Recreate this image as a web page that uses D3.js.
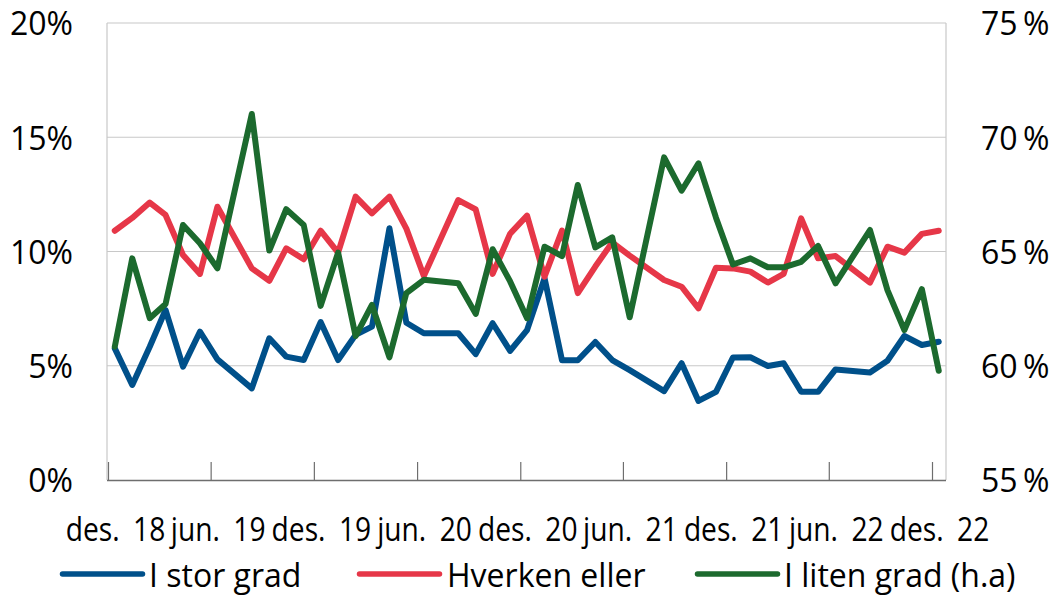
<!DOCTYPE html>
<html>
<head>
<meta charset="utf-8">
<script src="https://cdn.jsdelivr.net/npm/d3@7"></script>
<style>
  html, body { margin: 0; padding: 0; background: #fff; }
  svg { display: block; }
  text { font-family: "Open Sans", "Noto Sans", sans-serif; fill: #000; }
</style>
</head>
<body>
<svg id="chart" width="1057" height="599"></svg>
<script>
// ---- data ----
const months = [
  "2018-12",
  "2019-01","2019-02","2019-03","2019-04","2019-05","2019-06","2019-08","2019-09","2019-10","2019-11","2019-12",
  "2020-01","2020-02","2020-03","2020-04","2020-05","2020-06","2020-08","2020-09","2020-10","2020-11","2020-12",
  "2021-01","2021-02","2021-03","2021-04","2021-05","2021-06","2021-08","2021-09","2021-10","2021-11","2021-12",
  "2022-01","2022-02","2022-03","2022-04","2022-05","2022-06","2022-08","2022-09","2022-10","2022-11","2022-12"
];
const iStorGrad = [5.76,
  4.16,5.83,7.44,4.96,6.49,5.28,4.01,6.20,5.40,5.25,6.91,
  5.25,6.35,6.71,11.02,6.88,6.42,6.42,5.51,6.86,5.65,6.56,
  8.83,5.24,5.24,6.04,5.25,4.81,3.89,5.11,3.46,3.86,5.36,
  5.37,4.99,5.11,3.86,3.86,4.84,4.70,5.22,6.30,5.91,6.05];
const hverkenEller = [10.91,
  11.47,12.14,11.60,9.85,9.02,11.96,9.26,8.72,10.14,9.66,10.91,
  9.95,12.40,11.67,12.40,11.00,8.93,12.25,11.84,9.02,10.78,11.57,
  8.90,10.92,8.18,9.34,10.40,9.82,8.75,8.46,7.51,9.29,9.26,
  9.12,8.64,9.02,11.45,9.70,9.80,8.64,10.21,9.95,10.77,10.91];
const iLitenGrad = [60.83,
  64.70,62.08,62.70,66.16,65.36,64.26,71.02,65.04,66.85,66.16,62.62,
  64.95,61.30,62.66,60.37,63.18,63.76,63.61,62.27,65.10,63.69,62.08,
  65.21,64.80,67.91,65.18,65.62,62.12,69.12,67.66,68.86,66.48,64.43,
  64.70,64.31,64.31,64.55,65.24,63.61,65.94,63.31,61.56,63.35,59.78];
const xTickDates = ["2018-12","2019-06","2019-12","2020-06","2020-12","2021-06","2021-12","2022-06","2022-12"];
const xTickLabels = ["des. 18","jun. 19","des. 19","jun. 20","des. 20","jun. 21","des. 21","jun. 22","des. 22"];
const leftTicks = [0,5,10,15,20];
const rightTicks = [55,60,65,70,75];
const seriesNames = ["I stor grad","Hverken eller","I liten grad (h.a)"];
const seriesColors = ["#00508a","#e63748","#1c6a2e"];

// ---- layout ----
const svg = d3.select("#chart");
const L = 107, R = 946, T = 23, B = 480;
const parseMonth = s => { const [y,m] = s.split("-").map(Number); return new Date(y, m-1, 13); };
const parseTick = s => { const [y,m] = s.split("-").map(Number); return new Date(y, m-1, 1); };
const dates = months.map(parseMonth);

const x = d3.scaleTime().domain([new Date(2018,11,1), new Date(2022,11,1)]).range([108, 932]);
const yL = d3.scaleLinear().domain([0,20]).range([B, T]);
const yR = d3.scaleLinear().domain([55,75]).range([B, T]);

// gridlines
svg.append("g").selectAll("line").data(leftTicks.filter(d => d > 0)).join("line")
  .attr("x1", L).attr("x2", R)
  .attr("y1", d => yL(d)).attr("y2", d => yL(d))
  .attr("stroke", "#c8c8c8").attr("stroke-width", 1.2);
// side borders
svg.append("line").attr("x1", L).attr("x2", L).attr("y1", T).attr("y2", B).attr("stroke", "#c8c8c8").attr("stroke-width", 1.2);
svg.append("line").attr("x1", R).attr("x2", R).attr("y1", T).attr("y2", B).attr("stroke", "#c8c8c8").attr("stroke-width", 1.2);

// bottom axis
const xAxis = d3.axisBottom(x)
  .tickValues(xTickDates.map(parseTick))
  .tickFormat((d,i) => xTickLabels[i])
  .tickSize(-18).tickSizeOuter(0);
const gx = svg.append("g").attr("transform", `translate(0,${B})`).call(xAxis);
gx.select(".domain").attr("d", `M${L},0.5H${R}`).attr("stroke", "#6e6e6e").attr("stroke-width", 1.3);
gx.selectAll(".tick line").attr("stroke", "#6e6e6e").attr("stroke-width", 1.2);
gx.selectAll(".tick text").attr("x", 0).attr("y", 61.5).attr("dy", 0)
  .attr("transform", "translate(7,0) scale(0.88,1)")
  .style("font-size", "32px").style("word-spacing", "7px")
  .style("font-family", "'Open Sans', sans-serif").attr("fill", "#000");

// left axis
const gyl = svg.append("g").attr("transform", `translate(${L},0)`)
  .call(d3.axisLeft(yL).tickValues(leftTicks).tickFormat(d => d + "%").tickSize(0).tickPadding(34));
gyl.select(".domain").remove();
gyl.selectAll("text").style("font-size", "32px").style("font-family", "'Open Sans', sans-serif").attr("fill", "#000").attr("dy", "0.37em");

// right axis
const gyr = svg.append("g").attr("transform", `translate(${R},0)`)
  .call(d3.axisRight(yR).tickValues(rightTicks).tickFormat(d => d + "\u2009%").tickSize(0).tickPadding(35));
gyr.select(".domain").remove();
gyr.selectAll("text").style("font-size", "32px").style("font-family", "'Open Sans', sans-serif").attr("fill", "#000").attr("dy", "0.37em");

// lines
const lineL = d3.line().x((d,i) => x(dates[i])).y(d => yL(d));
const lineR = d3.line().x((d,i) => x(dates[i])).y(d => yR(d));
const drawLine = (data, gen, color) => svg.append("path").datum(data)
  .attr("d", gen).attr("fill", "none").attr("stroke", color)
  .attr("stroke-width", 6).attr("stroke-linejoin", "round").attr("stroke-linecap", "round");
drawLine(iStorGrad, lineL, seriesColors[0]);
drawLine(hverkenEller, lineL, seriesColors[1]);
drawLine(iLitenGrad, lineR, seriesColors[2]);

// legend
const legendX = [62.5, 359.5, 697.5];
const legendTextX = [149, 447, 784];
const legY = 574;
const lg = svg.append("g").selectAll("g").data(seriesNames).join("g");
lg.append("line")
  .attr("x1", (d,i) => legendX[i]).attr("x2", (d,i) => legendX[i] + 80)
  .attr("y1", legY).attr("y2", legY)
  .attr("stroke", (d,i) => seriesColors[i]).attr("stroke-width", 5.5).attr("stroke-linecap", "round");
lg.append("text").attr("x", (d,i) => legendTextX[i]).attr("y", 587)
  .style("font-size", "32px").text(d => d);
</script>
</body>
</html>
